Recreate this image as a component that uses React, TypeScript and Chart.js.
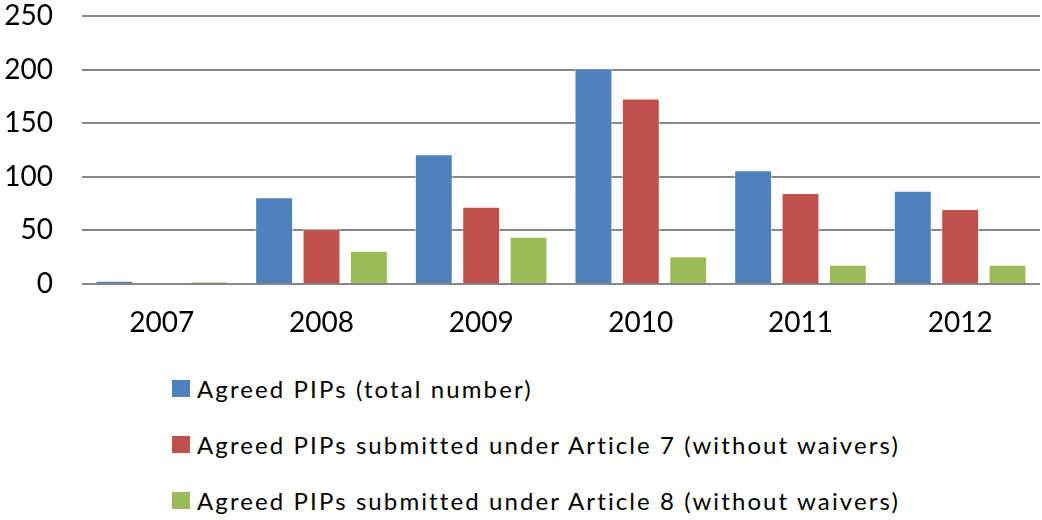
import React, { useEffect, useRef } from "react";
import { Chart, registerables } from "chart.js";

Chart.register(...registerables);

const categories = ["2007", "2008", "2009", "2010", "2011", "2012"];
const seriesLabels = [
  "Agreed PIPs (total number)",
  "Agreed PIPs submitted under Article 7 (without waivers)",
  "Agreed PIPs submitted under Article 8 (without waivers)",
];
const totalValues = [3, 81, 121, 201, 106, 87];
const article7Values = [0, 51, 72, 173, 85, 70];
const article8Values = [2, 31, 44, 26, 18, 18];
const seriesColors = ["#4F81BD", "#C0504D", "#9BBB59"];
const yTicks = [0, 50, 100, 150, 200, 250];

const FONT = "Lato";

export default function App() {
  const ref = useRef<HTMLCanvasElement>(null);
  useEffect(() => {
    document.body.style.margin = "0";
    const ctx = ref.current!;
    const values = [totalValues, article7Values, article8Values];
    const chart = new Chart(ctx, {
      type: "bar",
      data: {
        labels: categories,
        datasets: seriesLabels.map((label, i) => ({
          label,
          data: values[i],
          backgroundColor: seriesColors[i],
          borderColor: "rgba(255,255,255,0.55)",
          borderWidth: 1,
          categoryPercentage: 0.89,
          barPercentage: 0.8,
        })),
      },
      options: {
        animation: false,
        responsive: false,
        maintainAspectRatio: false,
        layout: { padding: { top: 16, left: 0, right: 2, bottom: 0 } },
        plugins: { legend: { display: false }, tooltip: { enabled: false } },
        scales: {
          x: {
            grid: { display: false, drawTicks: false },
            border: { display: false },
            ticks: { color: "#000", font: { family: FONT, size: 28 }, padding: 22 },
            afterFit: (axis: any) => {
              axis.height = 76;
              axis.paddingLeft = 0;
              axis.paddingRight = 0;
            },
          },
          y: {
            min: 0,
            max: 250,
            afterBuildTicks: (axis: any) => {
              axis.ticks = yTicks.map((v) => ({ value: v }));
            },
            grid: { color: "#868686", lineWidth: 2, drawTicks: false },
            border: { display: false },
            ticks: { color: "#000", font: { family: FONT, size: 28 }, padding: 29 },
            afterFit: (axis: any) => {
              axis.width = 82;
              axis.paddingTop = 0;
              axis.paddingBottom = 0;
            },
          },
        },
      },
    });
    return () => chart.destroy();
  }, []);

  return (
    <div style={{ position: "relative", width: 1042, height: 520, background: "#fff", fontFamily: FONT }}>
      <canvas ref={ref} width={1042} height={360} style={{ display: "block" }} />
      {seriesLabels.map((label, i) => (
        <div
          key={label}
          style={{
            position: "absolute",
            left: 172,
            top: 388.5 + i * 56 - 16,
            height: 32,
            display: "flex",
            alignItems: "center",
            fontSize: 24,
            letterSpacing: "2.1px",
            color: "#000",
            whiteSpace: "nowrap",
          }}
        >
          <span style={{ display: "inline-block", width: 18, height: 17, background: seriesColors[i], marginRight: 7 }} />
          {label}
        </div>
      ))}
    </div>
  );
}
